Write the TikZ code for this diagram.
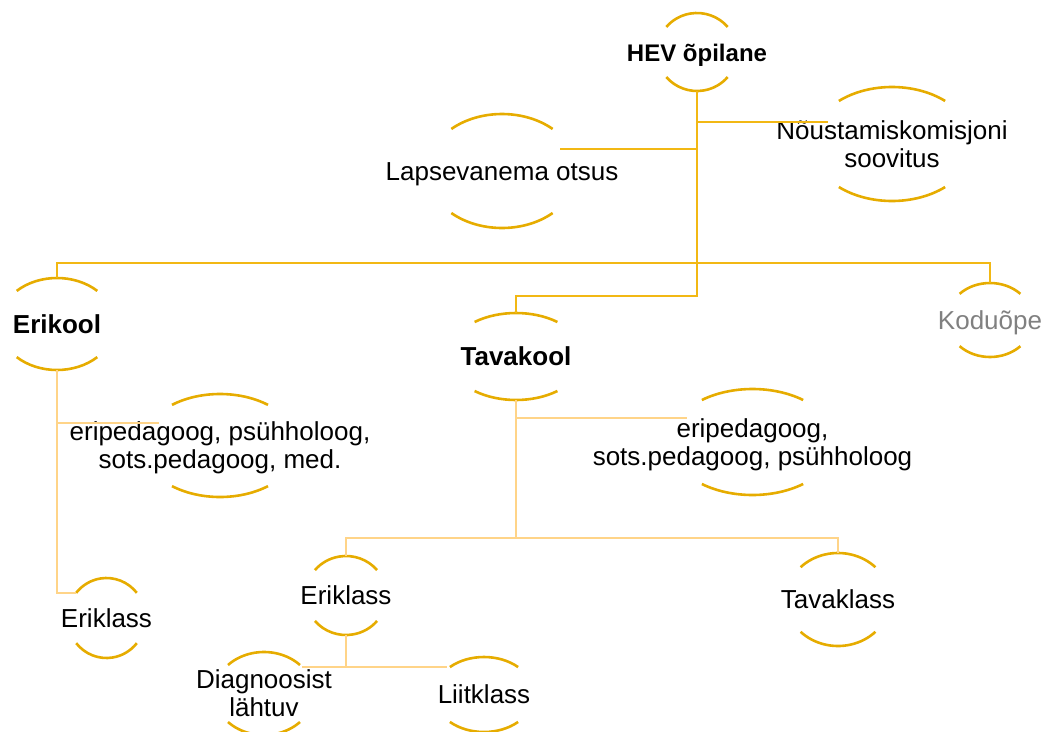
\documentclass[tikz,border=0pt]{standalone}
\usepackage{fontspec}
\setmainfont{Liberation Sans}
\definecolor{arcgold}{RGB}{230,172,0}
\definecolor{linegold}{RGB}{242,184,20}
\definecolor{lightgold}{RGB}{255,212,136}
\definecolor{softgray}{RGB}{128,128,128}

\tikzset{
  oval/.style={inner sep=0pt, align=center, font=\fontsize{26}{28}\selectfont,
    text height=23.5pt, text depth=5.5pt},
  pair/.style={text height=51.5pt},
  rim/.style={draw=arcgold, line width=2.6pt},
  trunk/.style={draw=linegold, line width=2.2pt},
  twig/.style={draw=lightgold, line width=2.2pt},
}
% top and bottom arcs of an oval: node, x radius, y radius, start angle
\newcommand\rims[4]{%
  \path[rim] (#1.center) ++(#4:#2pt and #3pt)
    arc[start angle=#4, end angle=180-#4, x radius=#2pt, y radius=#3pt];
  \path[rim] (#1.center) ++(180+#4:#2pt and #3pt)
    arc[start angle=180+#4, end angle=360-#4, x radius=#2pt, y radius=#3pt];}

\begin{document}
\begin{tikzpicture}[x=1pt, y=1pt]
        \useasboundingbox (0,0) rectangle (1049,-731);

        \node[oval, minimum height=78pt, font=\fontsize{24}{28}\selectfont\bfseries] at (697,-52)(hev){HEV õpilane};
        \node[oval, minimum height=114pt] at (502,-171)(lap){Lapsevanema otsus};
        \node[oval, pair, minimum height=114pt] at (892,-144)(nou){Nõustamiskomisjoni\\soovitus};
        \node[oval, minimum height=92pt] at (57,-324)(eri){\bfseries Erikool};
        \node[oval, minimum height=87pt] at (516,-356.5)(tava){\bfseries Tavakool};
        \node[oval, minimum height=74pt, text=softgray] at (990,-320)(kodu){Koduõpe};
        \node[oval, pair, minimum height=103pt] at (220,-445.5)(spec1){eripedagoog, psühholoog,\\sots.pedagoog, med.};
        \node[oval, pair, minimum height=106pt] at (752.5,-442)(spec2){eripedagoog,\\sots.pedagoog, psühholoog};
        \node[oval, minimum height=80pt] at (106.5,-618)(ekl1){Eriklass};
        \node[oval, minimum height=79pt] at (346,-595.5)(ekl2){Eriklass};
        \node[oval, minimum height=93pt] at (838,-599.5)(tavk){Tavaklass};
        \node[oval, pair, minimum height=83pt] at (264,-693.5)(diag){Diagnoosist\\lähtuv};
        \node[oval, minimum height=75pt] at (484,-694.5)(liit){Liitklass};

        \rims{hev}{40}{39}{40}
        \rims{lap}{75}{57}{47.5}
        \rims{nou}{81}{57}{49}
        \rims{eri}{58}{46}{46}
        \rims{tava}{68}{43.5}{52.5}
        \rims{kodu}{43}{37}{45}
        \rims{spec1}{78}{51.5}{52}
        \rims{spec2}{83}{53}{52.4}
        \rims{ekl1}{39}{40}{39}
        \rims{ekl2}{40.6}{39.5}{40}
        \rims{tavk}{52}{46.5}{44}
        \rims{diag}{49.5}{41.5}{43.4}
        \rims{liit}{50}{37.5}{47}

        \coordinate (nouIn) at (828,-122);
        \coordinate (lapIn) at (560,-149);
        \coordinate (schoolSplit) at (697,-263);
        \coordinate (tavaSplit) at (697,-296);
        \coordinate (ekl1In) at (76,-593);
        \coordinate (spec1In) at (159,-423);
        \coordinate (spec2In) at (687,-418);
        \coordinate (classSplit) at (516,-538);
        \coordinate (diagIn) at (302,-667);
        \coordinate (liitIn) at (447,-667);

        \path[trunk]
        (hev.south) -- (tavaSplit) -| (tava.north)
        (hev.south |- nouIn) -- (nouIn)
        (hev.south |- lapIn) -- (lapIn)
        (eri.north) |- (schoolSplit) -| (kodu.north)
        ;

        \path[twig]
        (eri.south) |- (ekl1In)
        (eri.south |- spec1In) -- (spec1In)
        (tava.south) -- (classSplit)
        (tava.south |- spec2In) -- (spec2In)
        (ekl2.north) |- (classSplit) -| (tavk.north)
        (ekl2.south) -- (ekl2.south |- diagIn)
        (diagIn) -- (liitIn)
        ;
    \end{tikzpicture}
\end{document}
